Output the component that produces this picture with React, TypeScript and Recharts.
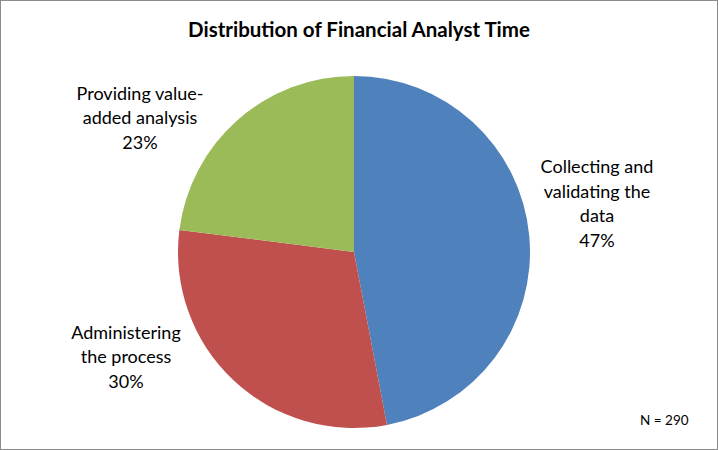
import React from 'react';
import { PieChart, Pie, Cell } from 'recharts';

const CATEGORIES = [
  ['Collecting and', 'validating the', 'data'],
  ['Administering', 'the process'],
  ['Providing value-', 'added analysis'],
];
const VALUES = [47, 30, 23];
const COLORS = ['#4F81BD', '#C0504D', '#9BBB59'];

// label anchor offsets from the pie centre (Excel best-fit placement)
const LABEL_OFFSET = [
  { dx: 243, dy: -49 },
  { dx: -228, dy: 104 },
  { dx: -214, dy: -135 },
];

const FONT = 'Lato, "Liberation Sans", sans-serif';

const data = VALUES.map((v, i) => ({ name: CATEGORIES[i].join(' '), value: v, idx: i }));

const renderLabel = (props: any) => {
  const { cx, cy, index, percent } = props;
  const off = LABEL_OFFSET[index];
  const lines = [...CATEGORIES[index], `${Math.round(percent * 100)}%`];
  const lh = 24.5;
  const top = cy + off.dy - ((lines.length - 1) * lh) / 2;
  return (
    <text
      x={cx + off.dx}
      y={top}
      textAnchor="middle"
      dominantBaseline="central"
      fill="#000"
      fontSize={18}
      fontFamily={FONT}
    >
      {lines.map((l, i) => (
        <tspan key={i} x={cx + off.dx} y={top + i * lh}>
          {l}
        </tspan>
      ))}
    </text>
  );
};

export default function App() {
  return (
    <div
      style={{
        position: 'absolute',
        left: 0,
        top: 0,
        width: 718,
        height: 450,
        background: '#fff',
        boxSizing: 'border-box',
        border: '1px solid #8c8c8c',
        fontFamily: FONT,
      }}
    >
      <div
        style={{
          position: 'absolute',
          top: 16,
          left: 0,
          width: 716,
          textAlign: 'center',
          fontWeight: 700,
          fontSize: 20.5,
          color: '#000',
        }}
      >
        Distribution of Financial Analyst Time
      </div>
      <PieChart width={716} height={448} style={{ position: 'absolute', left: 0, top: 0 }}>
        <Pie
          data={data}
          dataKey="value"
          nameKey="name"
          cx={348}
          cy={246}
          outerRadius={176}
          startAngle={90}
          endAngle={-270}
          stroke="none"
          label={renderLabel}
          labelLine={false}
          isAnimationActive={false}
        >
          {data.map((d, i) => (
            <Cell key={i} fill={COLORS[i]} />
          ))}
        </Pie>
      </PieChart>
      <div
        style={{
          position: 'absolute',
          left: 639,
          top: 411,
          fontSize: 13.5,
          color: '#000',
        }}
      >
        N = 290
      </div>
    </div>
  );
}
